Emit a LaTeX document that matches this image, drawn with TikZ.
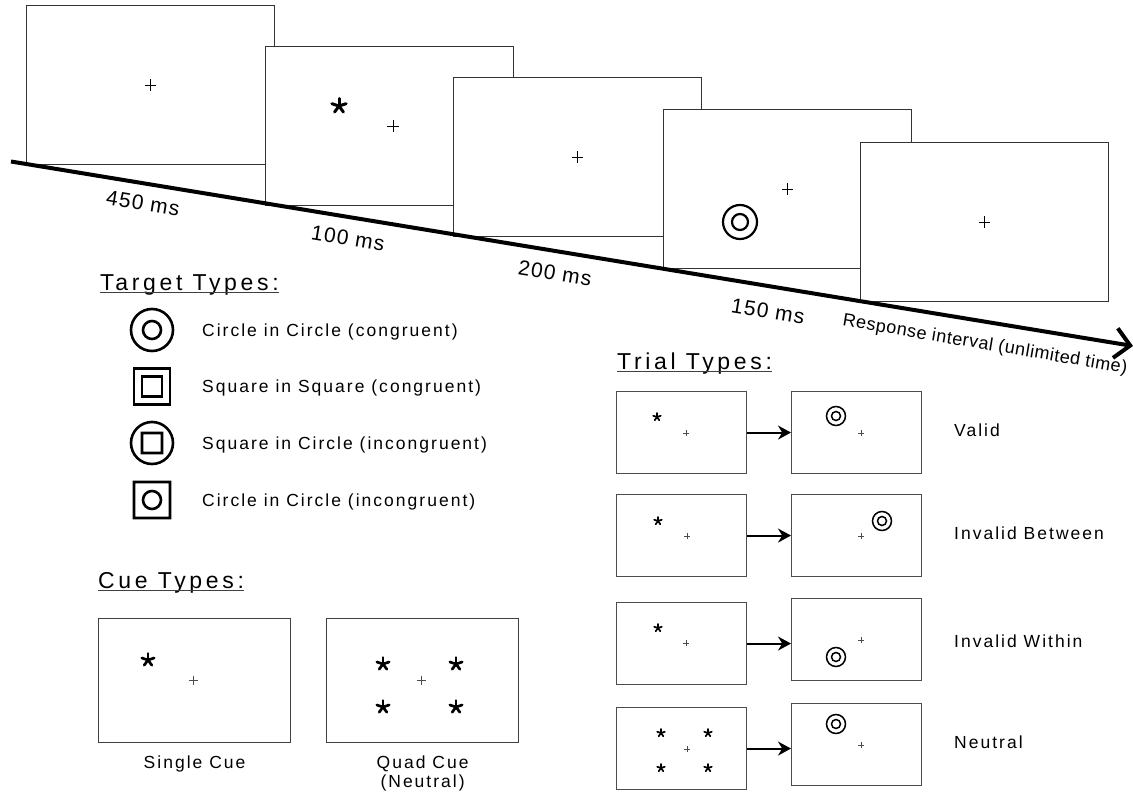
\documentclass[tikz,border=0pt]{standalone}
\usepackage{fontspec}
\setmainfont{Liberation Sans}
\newfontfamily\headfont[LetterSpace=16]{Liberation Sans}
\newfontfamily\bodyfont[LetterSpace=11.5]{Liberation Sans}
\newfontfamily\timefont[LetterSpace=6]{Liberation Sans}
\newfontfamily\respfont[LetterSpace=3]{Liberation Sans}
\usetikzlibrary{arrows.meta,positioning}

\begin{document}
\begin{tikzpicture}[
		x=1pt, y=-1pt,
		screen/.style={draw=black!80, line width=1.3pt, fill=white, anchor=north west, inner sep=0pt, minimum width=248pt, minimum height=159pt},
		cuebox/.style={draw=black!75, line width=1.2pt, anchor=north west, inner sep=0pt, minimum width=192pt, minimum height=124pt},
		trialbox/.style={draw=black!70, line width=1.1pt, anchor=north west, inner sep=0pt, minimum width=130pt, minimum height=82pt},
		heading/.style={font=\headfont\fontsize{23}{27}\selectfont, anchor=base west, inner sep=0pt},
		uline/.style={draw=black!75, line width=1.3pt},
		item/.style={font=\bodyfont\fontsize{17.5}{20}\selectfont, anchor=base west, inner sep=0pt},
		caption/.style={font=\bodyfont\fontsize{17.5}{19}\selectfont, align=center, inner sep=0pt},
		dur/.style={font=\timefont\fontsize{21}{24}\selectfont, rotate=-9.33, inner sep=0pt},
		resp/.style={font=\respfont\fontsize{18}{22}\selectfont, rotate=-9.6, inner sep=0pt},
		icon/.style={line width=2.6pt},
		flow/.style={line width=2pt, -{Stealth[length=13pt, width=14pt]}},
		pics/fixcross/.style={code={\draw (-#1,0) -- (#1,0) (0,-#1) -- (0,#1);}},
		pics/cuestar/.style={code={\foreach \a in {270,342,54,126,198} \draw[line cap=round] (0,0) -- (\a:#1);}},
		pics/ring/.style 2 args={code={\draw (0,0) circle (#1) (0,0) circle (#2);}}
	]
	\useasboundingbox (0,0) rectangle (1133,792);

	% trial sequence
	\node[screen] (s1) at (26,5) {};
	\node[screen] (s2) at (265,46) {};
	\node[screen] (s3) at (453,77) {};
	\node[screen] (s4) at (663,109) {};
	\node[screen] (s5) at (860,142) {};
	\pic[line width=1pt] at (s1.center) {fixcross=5.7};
	\pic[line width=3pt] at (339,106) {cuestar=7.5};
	\pic[line width=1pt] at (393,126) {fixcross=5.7};
	\pic[line width=1pt] at (s3.center) {fixcross=5.7};
	\pic[line width=2.2pt] at (740,222) {ring={17}{8}};
	\pic[line width=1pt] at (s4.center) {fixcross=5.7};
	\pic[line width=1pt] at (s5.center) {fixcross=5.7};

	\coordinate (tstart) at (11,161.5);
	\coordinate (tend) at (1133,346);
	\draw[line width=4pt, -{Straight Barb[length=15pt, width=30pt]}] (tstart) -- (tend);

	\node[dur] (d1) at (143,203) {450 ms};
	\node[dur] (d2) at (348,238) {100 ms};
	\node[dur] (d3) at (555,273) {200 ms};
	\node[dur] (d4) at (768,311) {150 ms};
	\node[resp] (d5) at (985,345) {Response interval (unlimited time)};

	% target types
	\node[heading] (htarget) at (100,290) {Target Types:};
	\draw[uline] ([yshift=-2.5pt]htarget.base west) -- ([yshift=-2.5pt]htarget.base east);
	\coordinate (ic1) at (152,330);
	\coordinate (ic2) at (152,386.5);
	\coordinate (ic3) at (152,443);
	\coordinate (ic4) at (152,500);
	\draw[icon] (ic1) circle (21) (ic1) circle (9);
	\draw[icon] (ic2) ++(-18,-18) rectangle ++(36,36) (ic2) ++(-10,-10) rectangle ++(20,20);
	\draw[icon] (ic3) circle (21) (ic3) ++(-10,-10) rectangle ++(20,20);
	\draw[icon] (ic4) ++(-18,-18) rectangle ++(36,36) (ic4) circle (9);
	\node[item] (t1) at (202,336) {Circle in Circle (congruent)};
	\node[item] (t2) at (202,392.5) {Square in Square (congruent)};
	\node[item] (t3) at (202,449) {Square in Circle (incongruent)};
	\node[item] (t4) at (202,506) {Circle in Circle (incongruent)};

	% cue types
	\node[heading] (hcue) at (98,588) {Cue Types:};
	\draw[uline] ([yshift=-2.5pt]hcue.base west) -- ([yshift=-2.5pt]hcue.base east);
	\node[cuebox] (cuea) at (98,618) {};
	\node[cuebox] (cueb) at (326,618) {};
	\pic[line width=2.7pt] at (148,660) {cuestar=6.5};
	\pic[line width=0.8pt, black!70] at (193,680) {fixcross=4.5};
	\pic[line width=2.7pt] at (383,664) {cuestar=6.5};
	\pic[line width=2.7pt] at (456,664) {cuestar=6.5};
	\pic[line width=2.7pt] at (383,707) {cuestar=6.5};
	\pic[line width=2.7pt] at (456,707) {cuestar=6.5};
	\pic[line width=0.8pt, black!70] at (421,680) {fixcross=4.5};
	\node[caption, below=12.5pt of cuea] (ca) {Single Cue};
	\node[caption, below=12.5pt of cueb] (cb) {Quad Cue\\(Neutral)};

	% trial types
	\node[heading] (htrial) at (617,369) {Trial Types:};
	\draw[uline] ([yshift=-2.5pt]htrial.base west) -- ([yshift=-2.5pt]htrial.base east);
	\node[trialbox] (l1) at (616,391) {};
	\node[trialbox] (r1) at (791,391) {};
	\node[trialbox] (l2) at (616,494) {};
	\node[trialbox] (r2) at (791,494) {};
	\node[trialbox] (l3) at (616,602) {};
	\node[trialbox] (r3) at (791,598) {};
	\node[trialbox] (l4) at (616,707) {};
	\node[trialbox] (r4) at (791,703) {};
	\draw[flow] (l1.east) -- (l1.east -| r1.west);
	\draw[flow] (l2.east) -- (l2.east -| r2.west);
	\draw[flow] (l3.east) -- (l3.east -| r3.west);
	\draw[flow] (l4.east) -- (l4.east -| r4.west);

	\pic[line width=1.7pt] at (657,417) {cuestar=4};
	\pic[line width=0.6pt, black!70] at (686,433) {fixcross=3};
	\pic[line width=1.5pt] at (836,416) {ring={9.5}{4.5}};
	\pic[line width=0.6pt, black!70] at (861,433) {fixcross=3};

	\pic[line width=1.7pt] at (658,521) {cuestar=4};
	\pic[line width=0.6pt, black!70] at (687,536) {fixcross=3};
	\pic[line width=1.5pt] at (882,521) {ring={9.5}{4.5}};
	\pic[line width=0.6pt, black!70] at (861,536) {fixcross=3};

	\pic[line width=1.7pt] at (658,628) {cuestar=4};
	\pic[line width=0.6pt, black!70] at (686,643) {fixcross=3};
	\pic[line width=1.5pt] at (836,657) {ring={9.5}{4.5}};
	\pic[line width=0.6pt, black!70] at (861,640) {fixcross=3};

	\pic[line width=1.7pt] at (661,733) {cuestar=4};
	\pic[line width=1.7pt] at (708,733) {cuestar=4};
	\pic[line width=1.7pt] at (661,768) {cuestar=4};
	\pic[line width=1.7pt] at (708,768) {cuestar=4};
	\pic[line width=0.6pt, black!70] at (687,749) {fixcross=3};
	\pic[line width=1.5pt] at (836,724) {ring={9.5}{4.5}};
	\pic[line width=0.6pt, black!70] at (861,745) {fixcross=3};

	\node[item] (lv) at (954,436) {Valid};
	\node[item] (lb) at (954,539) {Invalid Between};
	\node[item] (lw) at (954,647) {Invalid Within};
	\node[item] (ln) at (954,748) {Neutral};
\end{tikzpicture}
\end{document}
